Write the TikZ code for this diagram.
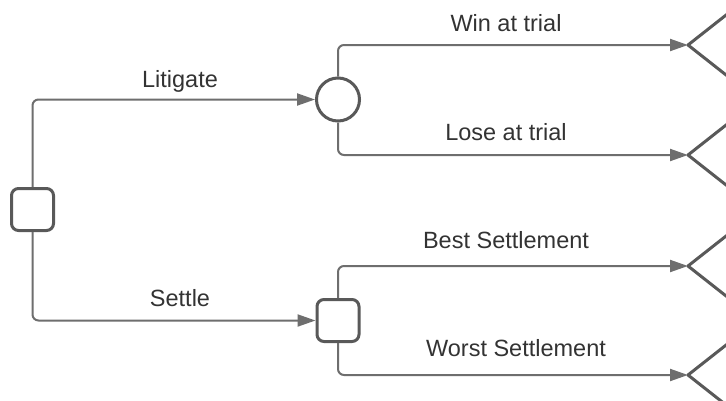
\documentclass[tikz,border=0pt]{standalone}
\usepackage{fontspec}
\setmainfont{Liberation Sans}
\usetikzlibrary{arrows.meta,positioning,calc}

\definecolor{linegray}{HTML}{6E6E6E}
\definecolor{nodegray}{HTML}{595959}
\definecolor{textgray}{HTML}{333333}

\tikzset{
  decision/.style={draw=nodegray, line width=3pt, rounded corners=7pt, minimum size=42pt, inner sep=0pt, fill=white},
  chance/.style={draw=nodegray, circle, line width=3pt, minimum size=43pt, inner sep=0pt, fill=white},
  branch/.style={draw=linegray, line width=2pt, rounded corners=6pt, -{Triangle[length=18pt,width=12pt]}},
  leaf/.style={draw=nodegray, line width=3pt, line join=round},
  lbl/.style={text=textgray, font=\fontsize{23.5}{28}\selectfont, anchor=base}
}

\begin{document}
\begin{tikzpicture}[x=1pt, y=-1pt]
  \useasboundingbox[fill=white] (0,0) rectangle (726,400);

  % decision and chance nodes
  \node[decision] (root) at (32.5,209.5) {};
  \node[chance] (trial) at (338,99.5) {};
  \node[decision] (deal) at (338,320.5) {};

  % end points
  \coordinate (win) at (688,45);
  \coordinate (lose) at (688,155);
  \coordinate (best) at (688,266);
  \coordinate (worst) at (688,375);

  % branches
  \draw[branch] (root.north) |- (trial.west);
  \draw[branch] (root.south) |- (deal.west);
  \draw[branch] (trial.north) |- (win);
  \draw[branch] (trial.south) |- (lose);
  \draw[branch] (deal.north) |- (best);
  \draw[branch] (deal.south) |- (worst);

  % end nodes
  \foreach \e in {win,lose,best,worst}
    \draw[leaf] ($(\e)+(40,-31.5)$) -- (\e) -- ($(\e)+(40,31.5)$);

  % labels
  \node[lbl] (litlbl) at (180,87) {Litigate};
  \node[lbl] (setlbl) at (180,306) {Settle};
  \node[lbl] (winlbl) at (506,31) {Win at trial};
  \node[lbl] (loselbl) at (506,140) {Lose at trial};
  \node[lbl] (bestlbl) at (506,248) {Best Settlement};
  \node[lbl] (worstlbl) at (516,356) {Worst Settlement};
\end{tikzpicture}
\end{document}
